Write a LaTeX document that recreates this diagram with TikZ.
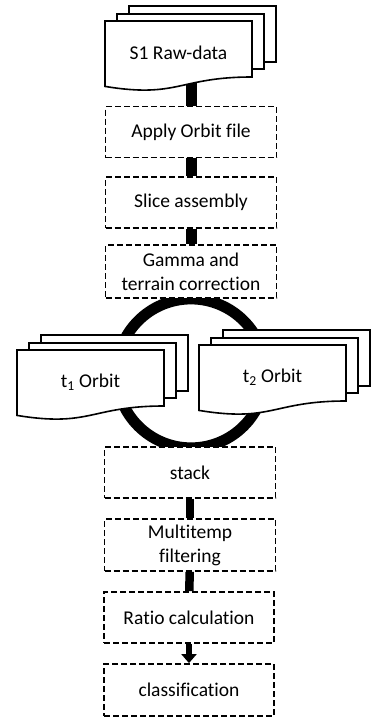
\documentclass[tikz,border=0pt]{standalone}
\usepackage{fontspec}
\setmainfont{Carlito}[Ligatures=NoCommon]
\usetikzlibrary{arrows.meta,backgrounds}

\tikzset{
  stepbox/.style={draw, dash pattern=on 6pt off 3pt, line width=1.8pt, fill=white,
    minimum width=171pt, minimum height=51pt, align=center, inner sep=0pt},
  sheet/.style={draw, line width=1.6pt, fill=white},
  link/.style={line width=11pt},
  thinlink/.style={line width=8.5pt},
}

% stack of three sheets: name, left, top, text
\newcommand{\multidoc}[4]{%
  \begin{scope}[shift={(#2,#3)}]
    \draw[sheet] (24,-15) rectangle (171,41);
    \draw[sheet] (12,-7) rectangle (159,48);
    \draw[sheet] (0,0) -- (147,0) -- (147,56)
      .. controls (73.5,56) and (73.5,77.5) .. (0,65.4) -- cycle;
    \node (#1) at (73.5,32) {#4};
  \end{scope}}

\begin{document}
\begin{tikzpicture}[x=1pt, y={(0pt,-1pt)}, font=\fontsize{19.5pt}{24pt}\selectfont]
  \useasboundingbox (0,0) rectangle (376,717);

  % processing steps
  \node[stepbox] (apply) at (191,132) {Apply Orbit file};
  \node[stepbox] (slice) at (191,202.5) {Slice assembly};
  \node[stepbox, minimum height=53pt] (gamma) at (191,271.5) {Gamma and\\terrain correction};
  \node[stepbox] (stack) at (190,472.5) {stack};
  \node[stepbox, minimum height=52pt] (multi) at (190,545) {Multitemp\\filtering};
  \node[stepbox, minimum width=170pt] (ratio) at (189,617.5) {Ratio calculation};
  \node[stepbox, minimum width=170pt, minimum height=52pt] (classif) at (189,690) {classification};

  % input data
  \multidoc{raw}{105}{21}{S1 Raw-data}
  \multidoc{orbA}{17}{350}{t\textsubscript{1} Orbit}
  \multidoc{orbB}{199}{345}{t\textsubscript{2} Orbit}

  \begin{scope}[on background layer]
    \draw[link] (apply.north) -- (apply.north |- raw);
    \draw[link] (apply) -- (slice);
    \draw[link] (slice) -- (gamma);
    \draw[link] (gamma.south) arc[start angle=90, delta angle=180, radius=74.5pt];
    \draw[link] (gamma.south) arc[start angle=90, delta angle=-180, radius=74.5pt];
    \draw[thinlink] (stack) -- (multi);
    \draw[thinlink] (multi) -- (ratio);
  \end{scope}

  \draw[line width=5.5pt, -{Triangle[length=9pt,width=15pt]}] (ratio.south) -- (classif.north);
\end{tikzpicture}
\end{document}
